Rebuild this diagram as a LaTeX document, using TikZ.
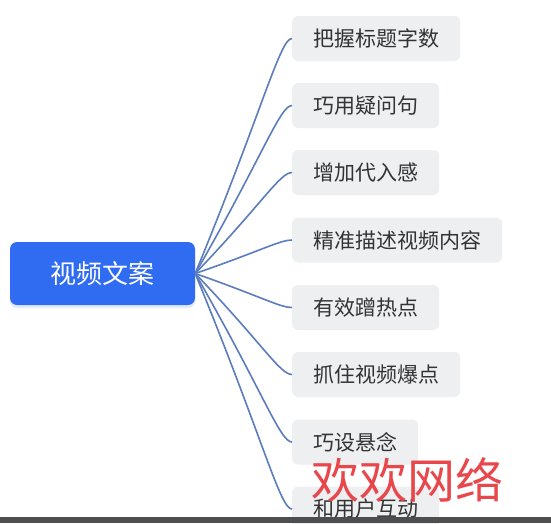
\documentclass[tikz,border=0pt]{standalone}
\usepackage{fontspec}
\setmainfont{Noto Sans CJK SC}
\usetikzlibrary{calc,shadows}
\definecolor{rootblue}{HTML}{2F6CF2}
\definecolor{leafgray}{HTML}{EEEFF1}
\definecolor{leaftext}{HTML}{333333}
\definecolor{linkblue}{HTML}{5B7DBD}
\definecolor{markred}{HTML}{E8474C}
\definecolor{barcol}{HTML}{4E4E4E}

\begin{document}
\begin{tikzpicture}[x=1pt, y=-1pt,
    rootbox/.style={rectangle, rounded corners=7pt, fill=rootblue, text=white,
        minimum width=185pt, minimum height=63pt, font=\fontsize{26}{30}\selectfont,
        drop shadow={shadow xshift=0pt, shadow yshift=-3pt, fill=rootblue!40, opacity=0.35}},
    leafbox/.style={rectangle, rounded corners=6pt, fill=leafgray, text=leaftext, anchor=west,
        inner xsep=21pt, inner ysep=0pt, minimum height=45pt, font=\fontsize{21}{25}\selectfont},
    branch/.style={draw=linkblue, line width=1.6pt}]

        \fill[white] (0,0) rectangle (551,523);
        \useasboundingbox (0,0) rectangle (551,523);

        \node[rootbox] (root) at (102.5, 273.5) {视频文案};

        \node[leafbox] (b1) at (292, 38.5) {把握标题字数};
        \node[leafbox] (b2) at (292, 105.5) {巧用疑问句};
        \node[leafbox] (b3) at (292, 172.5) {增加代入感};
        \node[leafbox] (b4) at (292, 240) {精准描述视频内容};
        \node[leafbox] (b5) at (292, 307.5) {有效蹭热点};
        \node[leafbox] (b6) at (292, 374.5) {抓住视频爆点};
        \node[leafbox] (b7) at (292, 442) {巧设悬念};
        \node[leafbox] (b8) at (292, 509) {和用户互动};

        \draw[branch] (root.east) .. controls ($(root.east)!0.7!(b1.west)$) and ($(b1.west)+(-12,0)$) .. (b1.west);
        \draw[branch] (root.east) .. controls ($(root.east)!0.7!(b2.west)$) and ($(b2.west)+(-12,0)$) .. (b2.west);
        \draw[branch] (root.east) .. controls ($(root.east)!0.7!(b3.west)$) and ($(b3.west)+(-12,0)$) .. (b3.west);
        \draw[branch] (root.east) .. controls ($(root.east)!0.7!(b4.west)$) and ($(b4.west)+(-12,0)$) .. (b4.west);
        \draw[branch] (root.east) .. controls ($(root.east)!0.7!(b5.west)$) and ($(b5.west)+(-12,0)$) .. (b5.west);
        \draw[branch] (root.east) .. controls ($(root.east)!0.7!(b6.west)$) and ($(b6.west)+(-12,0)$) .. (b6.west);
        \draw[branch] (root.east) .. controls ($(root.east)!0.7!(b7.west)$) and ($(b7.west)+(-12,0)$) .. (b7.west);
        \draw[branch] (root.east) .. controls ($(root.east)!0.7!(b8.west)$) and ($(b8.west)+(-12,0)$) .. (b8.west);

        % watermark and bottom bar
        \node[text=markred, font=\fontsize{48}{52}\selectfont] (mark) at (407, 480) {欢欢网络};
        \fill[barcol] (0,517) rectangle (551,523);

    \end{tikzpicture}
\end{document}
